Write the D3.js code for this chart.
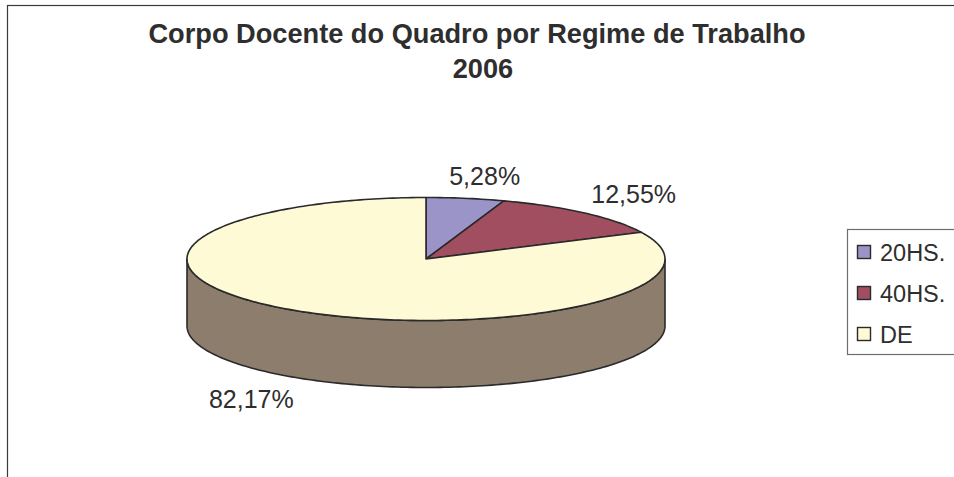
<!DOCTYPE html>
<html>
<head>
<meta charset="utf-8">
<script src="https://cdn.jsdelivr.net/npm/d3@7"></script>
<style>
html,body{margin:0;padding:0;background:#fff;}
svg{display:block;}
</style>
</head>
<body>
<svg id="chart" width="954" height="477"></svg>
<script>
// ---- data ----
const titleLines = ["Corpo Docente do Quadro por Regime de Trabalho", "2006"];
const categories = ["20HS.", "40HS.", "DE"];
const values = [5.28, 12.55, 82.17];
const labels = ["5,28%", "12,55%", "82,17%"];
const topColors = ["#9a94c8", "#a14f60", "#fffad6"];
const sideColors = ["#5e5a86", "#6a3340", "#8c7d6c"];

const svg = d3.select("#chart");
const W = 954, H = 477;
const font = "'Liberation Sans', Arial, Helvetica, sans-serif";
const ink = "#2e2e2e";

// frame (extends beyond right/bottom edges)
svg.append("rect").attr("x", 7.5).attr("y", 5.5).attr("width", W + 20).attr("height", H + 20)
  .attr("fill", "#fff").attr("stroke", "#3a3a3a").attr("stroke-width", 1.2);

// title
svg.append("text").attr("x", 477).attr("y", 43).attr("text-anchor", "middle")
  .attr("font-family", font).attr("font-weight", "bold").attr("font-size", 27.2).attr("fill", ink)
  .text(titleLines[0]);
svg.append("text").attr("x", 483).attr("y", 78).attr("text-anchor", "middle")
  .attr("font-family", font).attr("font-weight", "bold").attr("font-size", 27.2).attr("fill", ink)
  .text(titleLines[1]);

// pie geometry
const cx = 426, cy = 259, rx = 239, ry = 61.5, depth = 67;
const pie = d3.pie().sort(null).value(d => d)(values);

const P = (t, dy = 0) => [cx + rx * Math.sin(t), cy - ry * Math.cos(t) + dy];
function arcPts(a0, a1, dy) {
  const n = Math.max(2, Math.ceil(Math.abs(a1 - a0) / 0.02));
  const pts = [];
  for (let i = 0; i <= n; i++) pts.push(P(a0 + (a1 - a0) * i / n, dy));
  return pts;
}
const line = d3.line();

const g = svg.append("g");
// side walls (front half: angles between PI/2 and 3PI/2)
pie.forEach((s, i) => {
  const a0 = Math.max(s.startAngle, Math.PI / 2);
  const a1 = Math.min(s.endAngle, 3 * Math.PI / 2);
  if (a1 <= a0) return;
  const top = arcPts(a0, a1, 0);
  const bot = arcPts(a1, a0, depth);
  g.append("path").attr("d", line(top.concat(bot)) + "Z")
    .attr("fill", sideColors[i]).attr("stroke", "#2a2a2a").attr("stroke-width", 1.6)
    .attr("stroke-linejoin", "round");
});
// top faces
pie.forEach((s, i) => {
  const pts = [[cx, cy]].concat(arcPts(s.startAngle, s.endAngle, 0));
  g.append("path").attr("d", line(pts) + "Z")
    .attr("fill", topColors[i]).attr("stroke", "#2a2a2a").attr("stroke-width", 1.6)
    .attr("stroke-linejoin", "round");
});

// labels
const fsLab = 25;
pie.forEach((s, i) => {
  const t = (s.startAngle + s.endAngle) / 2;
  const sn = Math.sin(t), cs = Math.cos(t);
  const [px, py] = P(t, cs < 0 ? depth : 0);
  const tmp = svg.append("text").attr("font-family", font).attr("font-size", fsLab).text(labels[i]);
  const halfW = tmp.node().getComputedTextLength() / 2;
  tmp.remove();
  const gap = 10, halfH = 12;
  const lx = px + sn * gap + halfW * Math.sign(sn) * Math.min(1, Math.abs(sn) * 3);
  const ly = py - cs * gap - halfH * Math.sign(cs);
  svg.append("text").attr("x", lx).attr("y", ly + 9).attr("text-anchor", "middle")
    .attr("font-family", font).attr("font-size", fsLab).attr("fill", ink).text(labels[i]);
});

// legend
const lg = svg.append("g");
lg.append("rect").attr("x", 847.5).attr("y", 229.5).attr("width", 120).attr("height", 125)
  .attr("fill", "#fff").attr("stroke", "#6e6e6e").attr("stroke-width", 1.2);
categories.forEach((c, i) => {
  const yc = 252 + i * 41;
  lg.append("rect").attr("x", 857.5).attr("y", yc - 6.5).attr("width", 13).attr("height", 13)
    .attr("fill", topColors[i]).attr("stroke", "#2a2a2a").attr("stroke-width", 1.4);
  lg.append("text").attr("x", 880).attr("y", yc + 8.5).attr("font-family", font)
    .attr("font-size", 23.5).attr("fill", ink).text(c);
});
</script>
</body>
</html>
